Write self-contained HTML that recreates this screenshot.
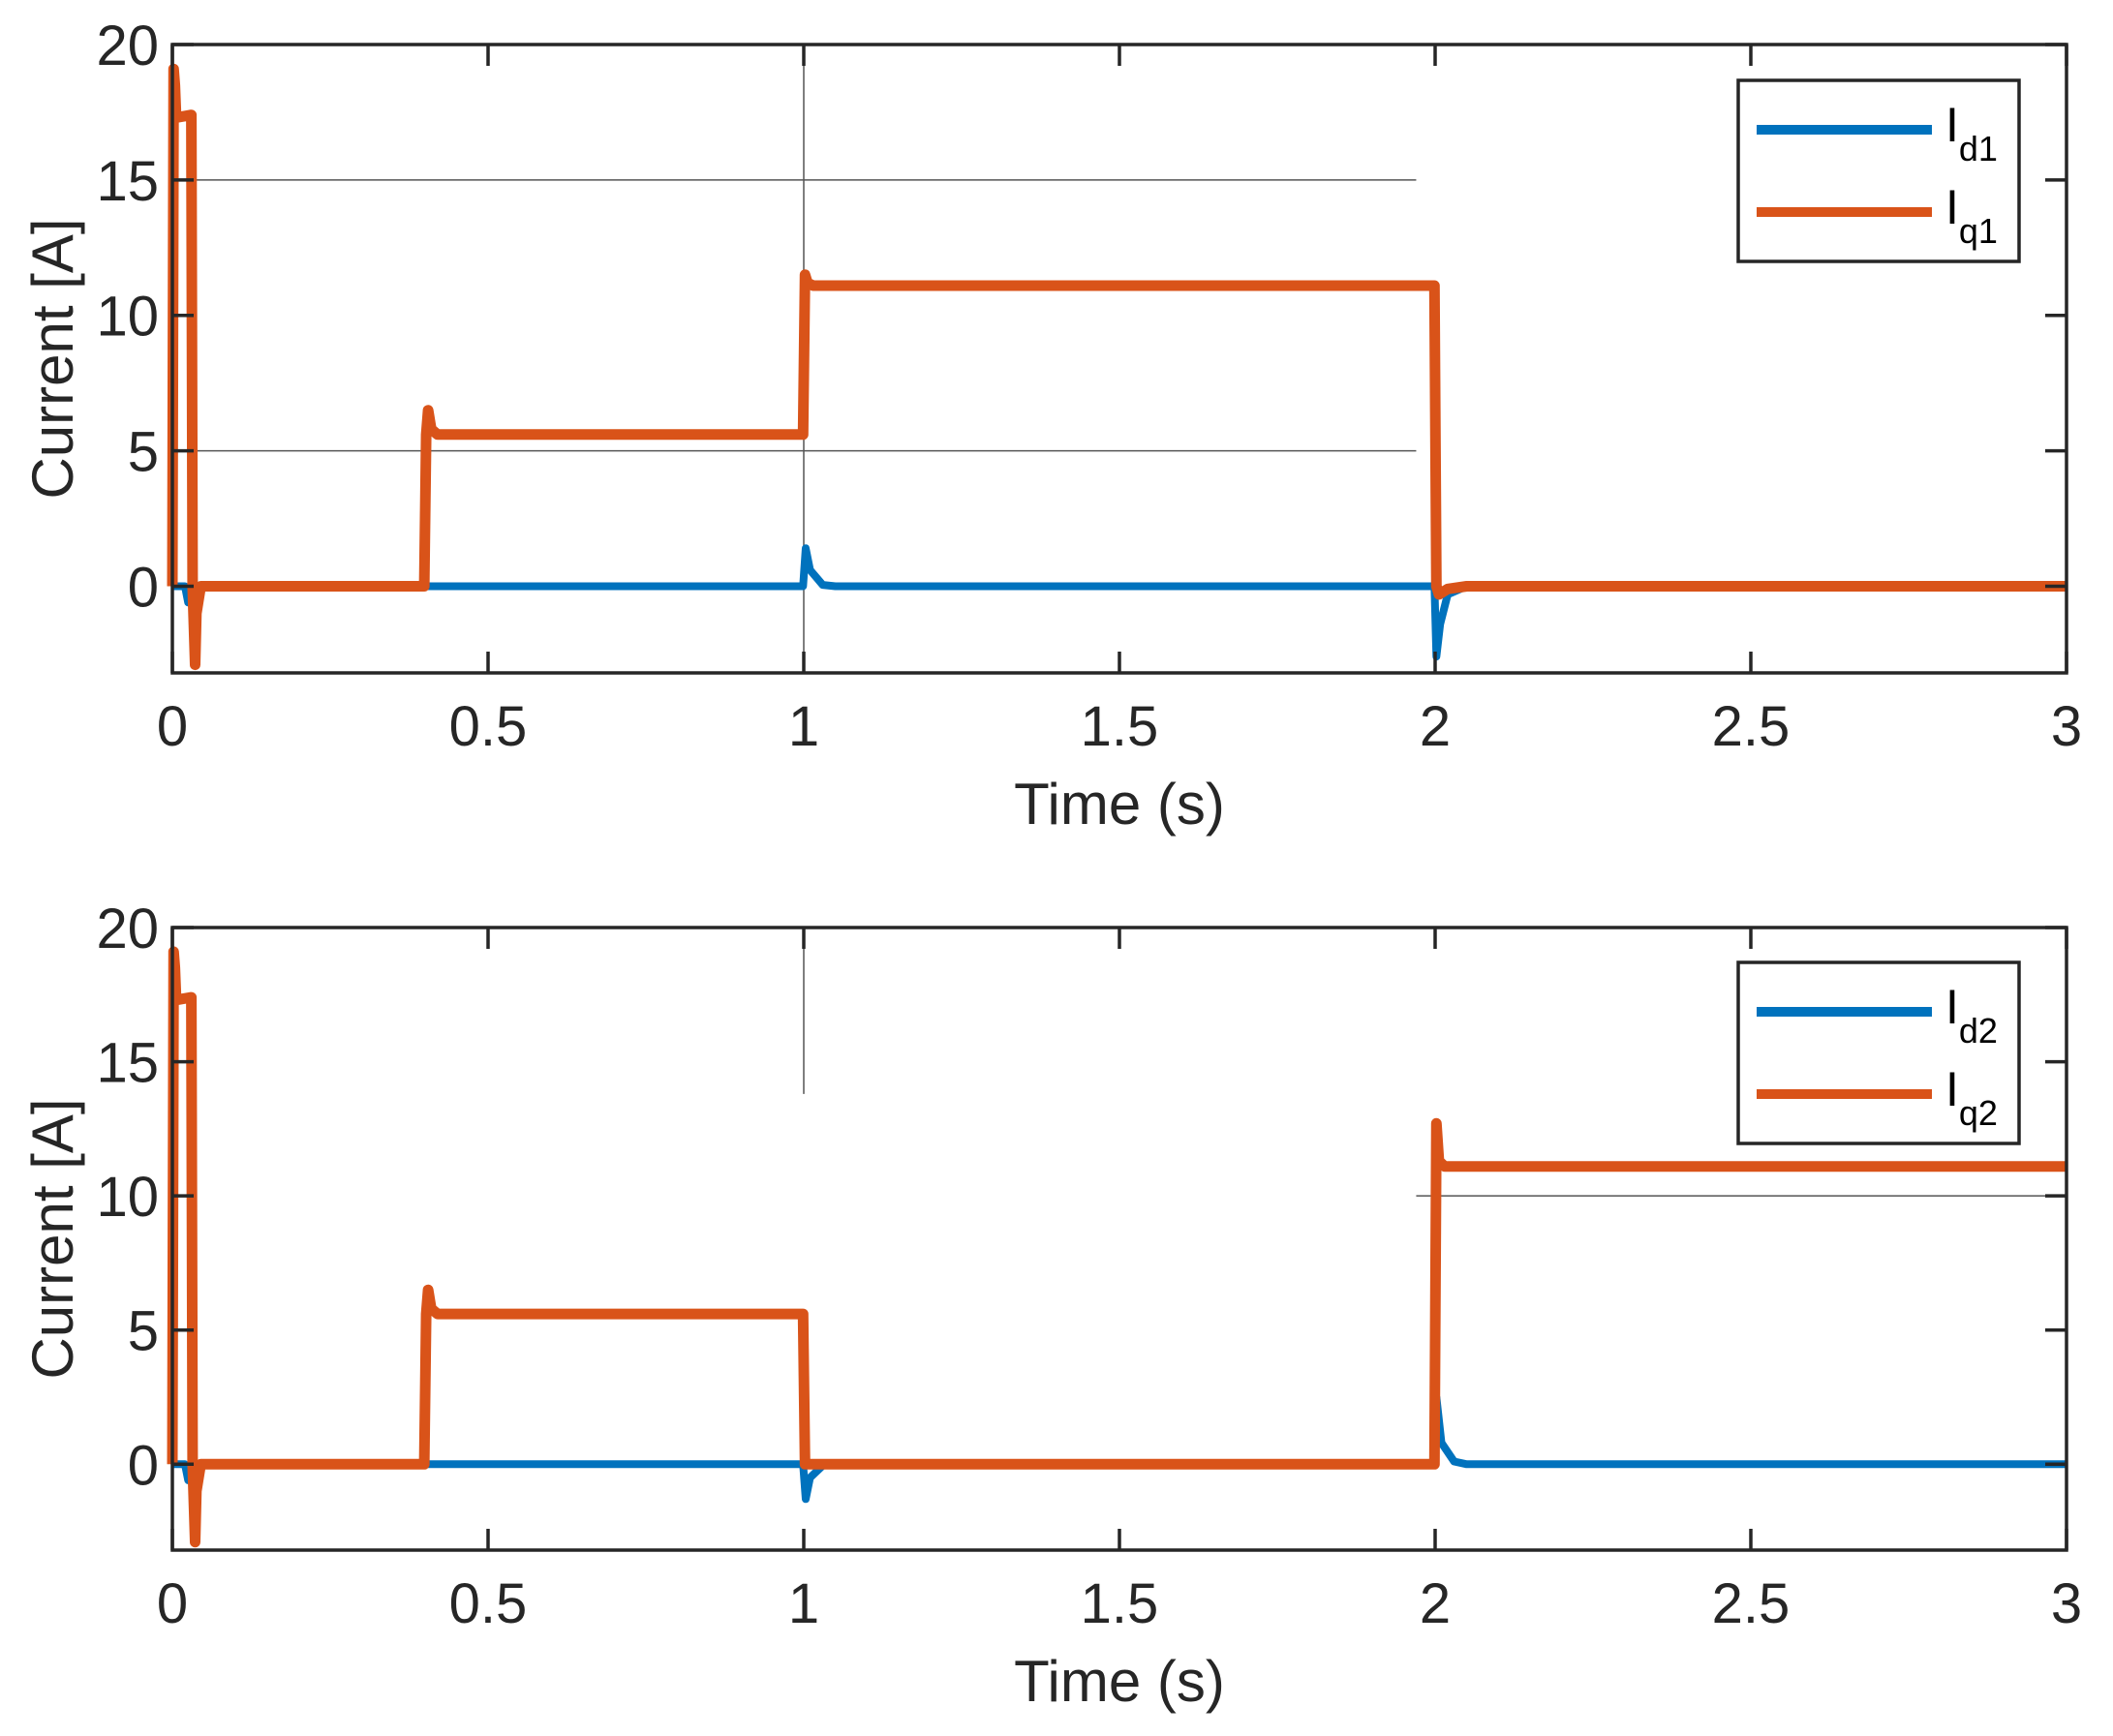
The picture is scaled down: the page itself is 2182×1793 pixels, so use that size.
<!DOCTYPE html>
<html><head><meta charset="utf-8"><style>
body{margin:0;background:#fff;}
svg{display:block;font-family:"Liberation Sans",Arial,sans-serif;}
</style></head><body>
<svg id="c" width="2182" height="1793" viewBox="0 0 2182 1793" xmlns="http://www.w3.org/2000/svg"></svg>
<script>
const xTicks=[0,0.5,1,1.5,2,2.5,3];
const xTickLabels=["0","0.5","1","1.5","2","2.5","3"];
const yTicks=[0,5,10,15,20];
const yTickLabels=["0","5","10","15","20"];
const tQ1=[0,0.002,0.004,0.006,0.03,0.032,0.036,0.038,0.045,0.399,0.402,0.405,0.41,0.42,0.999,1.002,1.006,1.015,1.03,1.999,2.002,2.006,2.02,2.05,3];
const vQ1=[0,19.1,18.5,17.3,17.4,0,-2.9,-1,0,0,5.6,6.5,5.8,5.6,5.6,11.5,11.2,11.1,11.1,11.1,0,-0.3,-0.1,0,0];
const tD1=[0,0.02,0.025,0.03,0.04,0.05,0.999,1.003,1.01,1.03,1.05,1.999,2.002,2.008,2.02,2.05,3];
const vD1=[0,0,-0.6,-0.2,0,0,0,1.4,0.6,0.05,0,0,-2.6,-1.4,-0.3,0,0];
const tQ2=[0,0.002,0.004,0.006,0.03,0.032,0.036,0.038,0.045,0.399,0.402,0.405,0.41,0.42,0.999,1.002,1.01,1.999,2.002,2.006,2.015,2.03,3];
const vQ2=[0,19.1,18.5,17.3,17.4,0,-2.9,-1,0,0,5.6,6.5,5.8,5.6,5.6,0,0,0,12.7,11.3,11.1,11.1,11.1];
const tD2=[0,0.02,0.025,0.03,0.04,0.05,0.999,1.003,1.01,1.03,1.05,1.999,2.002,2.01,2.03,2.05,3];
const vD2=[0,0,-0.6,-0.2,0,0,0,-1.3,-0.5,-0.05,0,0,2.5,0.8,0.1,0,0];
const NS="http://www.w3.org/2000/svg";
const svg=document.getElementById('c');
function mk(tag,attrs,parent){const e=document.createElementNS(NS,tag);for(const k in attrs)e.setAttribute(k,attrs[k]);(parent||svg).appendChild(e);return e;}
const BLUE="#0072bd",ORANGE="#d95319",AX="#262626";
function panel(p){
  const g=mk('g',{});
  
  
  const L=178,R=2134,T=p.top,B=p.bottom,ymin=p.ymin,ymax=20;
  const xs=t=>L+(t-0)/3*(R-L);
  const ys=v=>B-(v-ymin)/(ymax-ymin)*(B-T);
  p.grid.forEach(gr=>{const l=mk('line',gr.h?{x1:xs(gr.a),x2:xs(gr.b),y1:ys(gr.v),y2:ys(gr.v)}:{x1:xs(gr.v),x2:xs(gr.v),y1:ys(gr.a),y2:ys(gr.b)},g);l.setAttribute('stroke','#555');l.setAttribute('stroke-width','1.5');});
  function series(ts,vs,color,w,name){
    let d='';ts.forEach((t,i)=>{d+=(i?'L':'M')+xs(t).toFixed(1)+','+ys(vs[i]).toFixed(1);});
    const pth=mk('path',{d:d,fill:'none',stroke:color,'stroke-width':w,'stroke-linejoin':'round'},g);
    
    
  }
  series(p.td,p.vd,BLUE,8,p.dName);
  series(p.tq,p.vq,ORANGE,11,p.qName);
  const box=mk('rect',{x:L,y:T,width:R-L,height:B-T,fill:'none',stroke:AX,'stroke-width':3.5},g);
  
  
  xTicks.forEach((t,i)=>{
    const x=xs(t);
    mk('line',{x1:x,x2:x,y1:B,y2:B-22,stroke:AX,'stroke-width':3.5},g);
    mk('line',{x1:x,x2:x,y1:T,y2:T+22,stroke:AX,'stroke-width':3.5},g);
    const tx=mk('text',{x:x,y:B+75,'font-size':58,'text-anchor':'middle',fill:AX},g);
    tx.textContent=xTickLabels[i];
    
    
  });
  yTicks.forEach((v,i)=>{
    const y=ys(v);
    mk('line',{x1:L,x2:L+22,y1:y,y2:y,stroke:AX,'stroke-width':3.5},g);
    mk('line',{x1:R,x2:R-22,y1:y,y2:y,stroke:AX,'stroke-width':3.5},g);
    const tx=mk('text',{x:L-14,y:y+21,'font-size':58,'text-anchor':'end',fill:AX},g);
    tx.textContent=yTickLabels[i];
    
    
  });
  const xl=mk('text',{x:(L+R)/2,y:B+156,'font-size':60,'text-anchor':'middle',fill:AX},g);
  xl.textContent='Time (s)';
  
  
  const cy=(T+B)/2;
  const yl=mk('text',{x:75,y:cy,'font-size':60,'text-anchor':'middle',fill:AX,transform:`rotate(-90 75 ${cy})`},g);
  yl.textContent='Current [A]';
  
  
  const lg=mk('g',{},g);
  
  
  const LT=p.legTop;
  mk('rect',{x:1795,y:LT,width:290,height:187,fill:'#fff',stroke:AX,'stroke-width':3.5},lg);
  [[BLUE,p.sub[0],51],[ORANGE,p.sub[1],136]].forEach(([c,s,dy])=>{
    const le=mk('g',{},lg);
    
    
    mk('line',{x1:1814,x2:1995,y1:LT+dy,y2:LT+dy,stroke:c,'stroke-width':10},le);
    const t=mk('text',{x:2009,y:LT+dy+12,'font-size':50,fill:'#000'},le);
    t.textContent='I';
    const ts=mk('tspan',{dy:20,'font-size':36},t);
    ts.textContent=s;
  });
}
panel({name:'top-plot',top:46,bottom:695,ymin:-3.2,td:tD1,vd:vD1,tq:tQ1,vq:vQ1,dName:'id1-line',qName:'iq1-line',sub:['d1','q1'],legTop:83,
  grid:[{h:1,v:15,a:0,b:1.97},{h:1,v:5,a:0,b:1.97},{h:0,v:1,a:-3.2,b:20}]});
panel({name:'bottom-plot',top:958,bottom:1601,ymin:-3.2,td:tD2,vd:vD2,tq:tQ2,vq:vQ2,dName:'id2-line',qName:'iq2-line',sub:['d2','q2'],legTop:994,
  grid:[{h:1,v:10,a:1.97,b:3},{h:0,v:1,a:13.8,b:19.4}]});
</script>
</body></html>
